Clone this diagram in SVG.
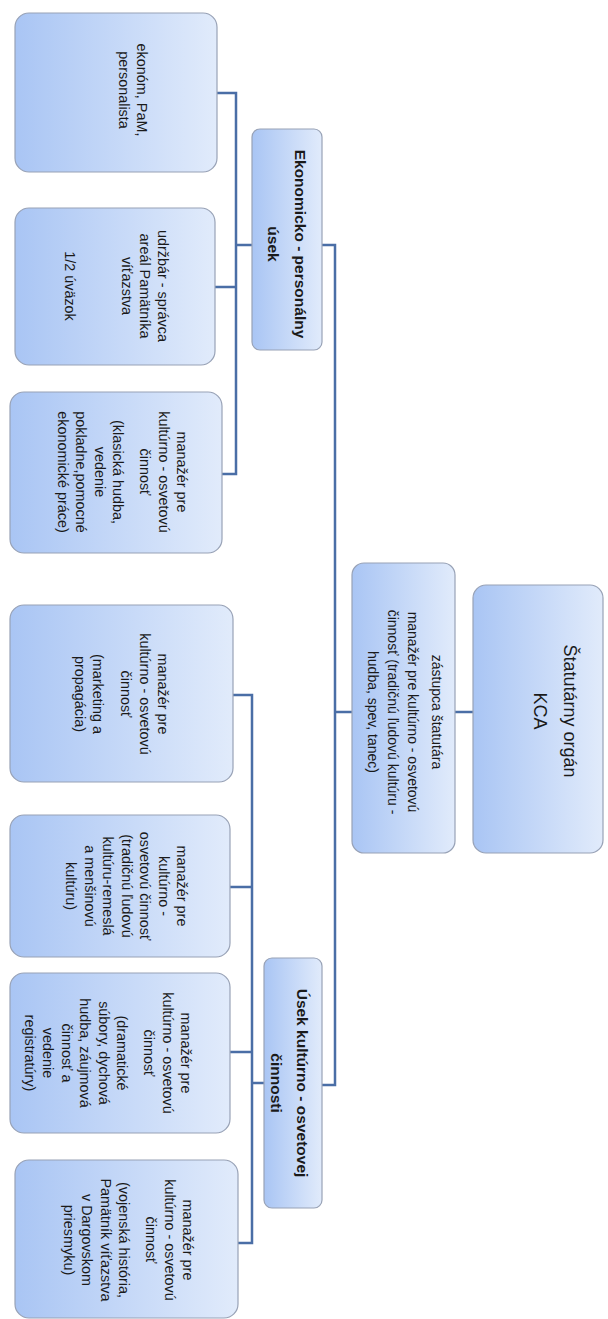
<svg xmlns="http://www.w3.org/2000/svg" width="608" height="1319" viewBox="0 0 608 1319">
<style>
.box{fill:url(#g);stroke:#98a2b6;stroke-width:1.2}
.t{font-family:"Liberation Sans",Arial,sans-serif;font-size:14.4px;fill:#1a1a1a;text-anchor:middle;dominant-baseline:central}
.b{font-weight:bold;font-size:15.5px}
.r{font-size:18px}
.z{font-size:14px}
.c{fill:none;stroke:#4a6ea6;stroke-width:2.5}
</style>
<defs>
<linearGradient id="g" x1="0" y1="0" x2="1" y2="0">
<stop offset="0" stop-color="#a9c5f4"/>
<stop offset="1" stop-color="#e1ebfb"/>
</linearGradient>
</defs>
<rect width="608" height="1319" fill="#ffffff"/>
<g id="connectors" class="c">
<path d="M455 712H473"/>
<path d="M352 712H335M322 245H335V1085H322"/>
<path d="M252 245H236M217 93H236V474H222M215 287H236"/>
<path d="M264 1083H252M233 695H252V1243H238M230 887H252M230 1052H252"/>
</g>
<g id="root">
<rect class="box" x="473" y="585" width="130" height="268" rx="13"/>
<text class="t r" transform="translate(570,711) rotate(90)">Štatutárny orgán</text>
<text class="t r" transform="translate(540,711) rotate(90)">KCA</text>
</g>
<g id="zastupca">
<rect class="box" x="352" y="563" width="103" height="290" rx="12"/>
<text class="t z" transform="translate(437,712) rotate(90)">zástupca štatutára</text>
<text class="t z" transform="translate(413,712) rotate(90)">manažér pre kultúrno - osvetovú</text>
<text class="t z" transform="translate(393,712) rotate(90)">činnosť (tradičnú ľudovú kultúru -</text>
<text class="t z" transform="translate(373,712) rotate(90)">hudba, spev, tanec)</text>
</g>
<g id="ekonomicky">
<rect class="box" x="252" y="129" width="70" height="221" rx="8"/>
<text class="t b" transform="translate(300,244) rotate(90)">Ekonomicko - personálny</text>
<text class="t b" transform="translate(273,244) rotate(90)">úsek</text>
</g>
<g id="kulturny">
<rect class="box" x="264" y="958" width="58" height="250" rx="8"/>
<text class="t b" transform="translate(302,1083) rotate(90)">Úsek kultúrno - osvetovej</text>
<text class="t b" transform="translate(276,1083) rotate(90)">činnosti</text>
</g>
<g id="l1">
<rect class="box" x="15" y="13" width="202" height="159" rx="14"/>
<text class="t" transform="translate(142,90) rotate(90)">ekonóm, PaM,</text>
<text class="t" transform="translate(124,90) rotate(90)">personalista</text>
</g>
<g id="l2">
<rect class="box" x="15" y="208" width="200" height="157" rx="14"/>
<text class="t" transform="translate(163,286) rotate(90)">udržbár - správca</text>
<text class="t" transform="translate(145,286) rotate(90)">areál Pamätníka</text>
<text class="t" transform="translate(127,286) rotate(90)">víťazstva</text>
<text class="t" transform="translate(70,286) rotate(90)">1/2 úväzok</text>
</g>
<g id="l3">
<rect class="box" x="10" y="392" width="212" height="161" rx="14"/>
<text class="t" transform="translate(182,472) rotate(90)">manažér pre</text>
<text class="t" transform="translate(163.5,472) rotate(90)">kultúrno - osvetovú</text>
<text class="t" transform="translate(145,472) rotate(90)">činnosť</text>
<text class="t" transform="translate(118,472) rotate(90)">(klasická hudba,</text>
<text class="t" transform="translate(99.5,472) rotate(90)">vedenie</text>
<text class="t" transform="translate(81,472) rotate(90)">pokladne,pomocné</text>
<text class="t" transform="translate(62.5,472) rotate(90)">ekonomické práce)</text>
</g>
<g id="l4">
<rect class="box" x="10" y="605" width="223" height="177" rx="14"/>
<text class="t" transform="translate(163,694) rotate(90)">manažér pre</text>
<text class="t" transform="translate(144.5,694) rotate(90)">kultúrno - osvetovú</text>
<text class="t" transform="translate(126,694) rotate(90)">činnosť</text>
<text class="t" transform="translate(98,694) rotate(90)">(marketing a</text>
<text class="t" transform="translate(79.5,694) rotate(90)">propagácia)</text>
</g>
<g id="l5">
<rect class="box" x="10" y="815" width="220" height="142" rx="14"/>
<text class="t" transform="translate(182,886) rotate(90)">manažér pre</text>
<text class="t" transform="translate(163.5,886) rotate(90)">kultúrno -</text>
<text class="t" transform="translate(145,886) rotate(90)">osvetovú činnosť</text>
<text class="t" transform="translate(126.5,886) rotate(90)">(tradičnú ľudovú</text>
<text class="t" transform="translate(108,886) rotate(90)">kultúru-remeslá</text>
<text class="t" transform="translate(89.5,886) rotate(90)">a menšinovú</text>
<text class="t" transform="translate(71,886) rotate(90)">kultúru)</text>
</g>
<g id="l6">
<rect class="box" x="10" y="973" width="220" height="160" rx="14"/>
<text class="t" transform="translate(186,1053) rotate(90)">manažér pre</text>
<text class="t" transform="translate(167.5,1053) rotate(90)">kultúrno - osvetovú</text>
<text class="t" transform="translate(149,1053) rotate(90)">činnosť</text>
<text class="t" transform="translate(122,1053) rotate(90)">(dramatické</text>
<text class="t" transform="translate(103.5,1053) rotate(90)">súbory, dychová</text>
<text class="t" transform="translate(85,1053) rotate(90)">hudba, záujmová</text>
<text class="t" transform="translate(66.5,1053) rotate(90)">činnosť a</text>
<text class="t" transform="translate(48,1053) rotate(90)">vedenie</text>
<text class="t" transform="translate(29.5,1053) rotate(90)">registratúry)</text>
</g>
<g id="l7">
<rect class="box" x="15" y="1160" width="223" height="158" rx="14"/>
<text class="t" transform="translate(188,1240) rotate(90)">manažér pre</text>
<text class="t" transform="translate(169.5,1240) rotate(90)">kultúrno - osvetovú</text>
<text class="t" transform="translate(151,1240) rotate(90)">činnosť</text>
<text class="t" transform="translate(124,1240) rotate(90)">(vojenská história,</text>
<text class="t" transform="translate(105.5,1240) rotate(90)">Pamätník víťazstva</text>
<text class="t" transform="translate(87,1240) rotate(90)">v Dargovskom</text>
<text class="t" transform="translate(68.5,1240) rotate(90)">priesmyku)</text>
</g>
</svg>
